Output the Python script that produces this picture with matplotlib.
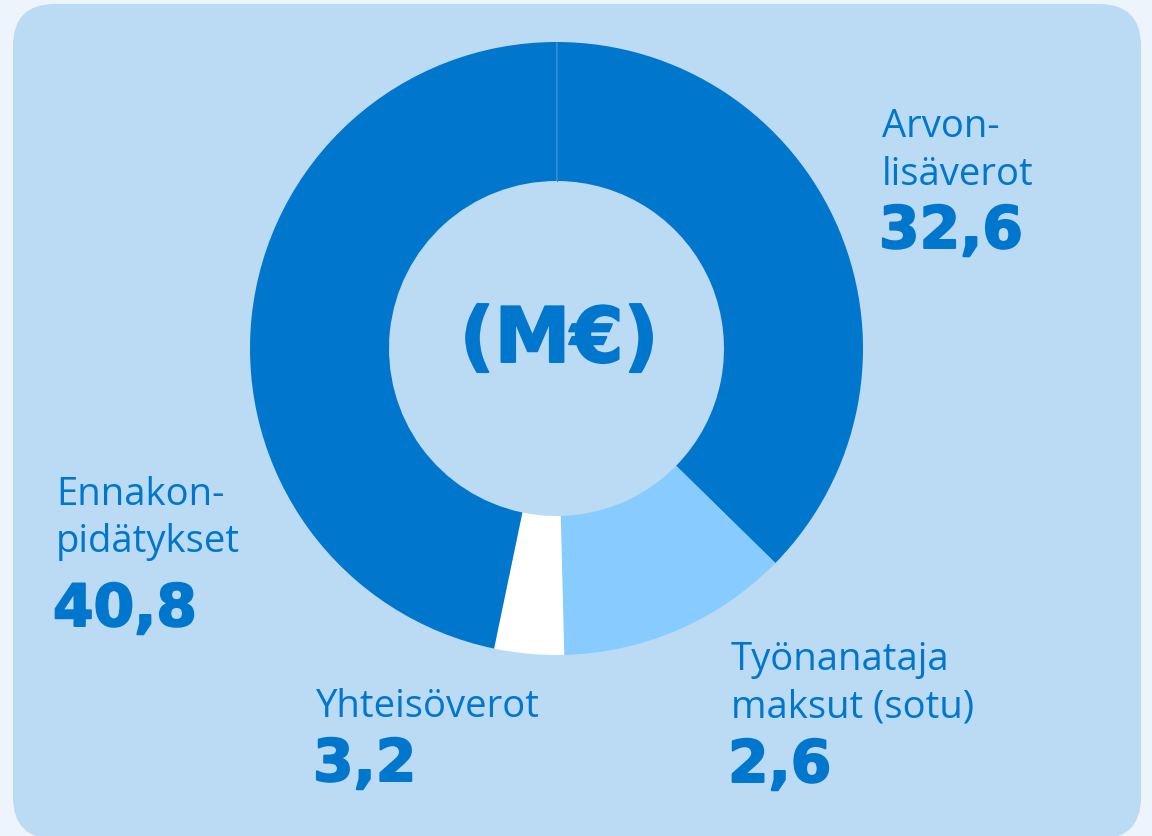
import matplotlib
matplotlib.use("Agg")
import matplotlib.pyplot as plt
import matplotlib.patheffects as pe
from matplotlib.patches import FancyBboxPatch

# Data
categories = ["Arvonlisäverot", "Työnanataja maksut (sotu)", "Yhteisöverot", "Ennakonpidätykset"]
slice_values = [32.6, 10.7, 3.2, 40.8]          # slice sizes as drawn
label_texts = ["Arvon-\nlisäverot", "Työnanataja\nmaksut (sotu)", "Yhteisöverot", "Ennakon-\npidätykset"]
value_texts = ["32,6", "2,6", "3,2", "40,8"]
colors = ["#0077cc", "#88ccff", "#ffffff", "#0077cc"]
center_text = "(M€)"

W, H = 1152, 837
fig = plt.figure(figsize=(W / 100, H / 100), dpi=100, facecolor="#edf4fb")
ax = fig.add_axes([0, 0, 1, 1])
ax.set_facecolor("none")

panel = FancyBboxPatch((13, -3), 1128, 835, boxstyle="round,pad=0,rounding_size=42",
                       facecolor="#bbdbf4", edgecolor="none", zorder=0)
ax.add_patch(panel)

cx, cy, R = 556.5, H - 349.5, 306.5
ax.pie(slice_values, colors=colors, startangle=90, counterclock=False,
       center=(cx, cy), radius=R,
       wedgeprops=dict(width=R - 167.5, linewidth=0))
ax.plot([cx, cx], [cy + 167.5, cy + R], color="#2a86d0", lw=0.7, zorder=3)
ax.set_xlim(0, W)
ax.set_ylim(0, H)
ax.set_aspect("auto")
ax.axis("off")

txt = "#0077cc"
fam = ["Open Sans", "DejaVu Sans"]
bold_fam = ["DejaVu Sans"]
heavy = [pe.withStroke(linewidth=1.4, foreground=txt)]

def label(x, baselines, lines, num, num_base):
    for b, ln in zip(baselines, lines):
        ax.text(x, H - b, ln, fontsize=27.5, color=txt, family=fam,
                ha="left", va="baseline")
    ax.text(x - 3, H - num_base, num, fontsize=42, fontweight="bold", color=txt,
            family=bold_fam, ha="left", va="baseline", path_effects=heavy)

label(882, [137, 185], label_texts[0].split("\n"), value_texts[0], 249)
label(731, [670, 718], label_texts[1].split("\n"), value_texts[1], 783)
label(316, [717], label_texts[2].split("\n"), value_texts[2], 782)
label(56, [505, 552], label_texts[3].split("\n"), value_texts[3], 627)

ax.text(559, H - 363, center_text, fontsize=55, fontweight="bold", color=txt,
        family=bold_fam, ha="center", va="baseline", path_effects=heavy)

fig.savefig("out.png", dpi=100, facecolor=fig.get_facecolor())
